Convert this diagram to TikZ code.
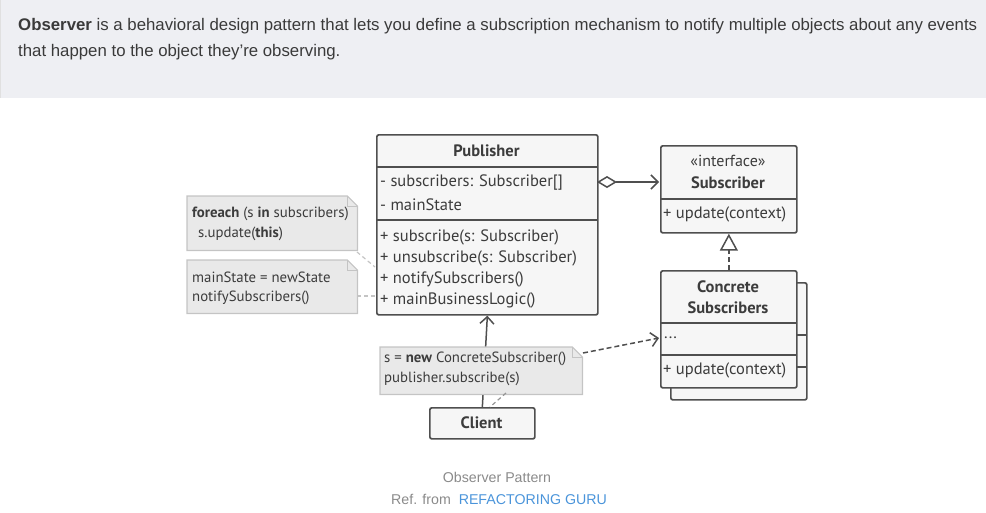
\documentclass[tikz,border=0pt]{standalone}
\usepackage{fontspec}
\setmainfont{Liberation Sans}
\newfontfamily\uml{PT Sans}
\usetikzlibrary{arrows.meta}
\definecolor{hdrbg}{HTML}{EEEFF3}
\definecolor{hdrtxt}{HTML}{3A3A3A}
\definecolor{boxline}{HTML}{4F4F4F}
\definecolor{boxfill}{HTML}{F6F6F6}
\definecolor{umltxt}{HTML}{3C3C3C}
\definecolor{notefill}{HTML}{E9E9E9}
\definecolor{noteline}{HTML}{C4C4C4}
\definecolor{capgray}{HTML}{8A8A8A}
\definecolor{linkblue}{HTML}{4A94DA}
\tikzset{
  cls/.style={draw=boxline, fill=boxfill, line width=1.7pt, rounded corners=2pt, inner sep=0pt, anchor=north west},
  divl/.style={draw=boxline, line width=1.7pt},
  umlt/.style={inner sep=0pt, text=umltxt, font=\uml\fontsize{16.5}{19}\selectfont},
  umlb/.style={umlt, font=\uml\bfseries\fontsize{16.5}{19}\selectfont},
  notet/.style={inner sep=0pt, anchor=west, text=umltxt, font=\uml\fontsize{14.8}{17}\selectfont},
  notebox/.style={inner sep=0pt, anchor=north west},
  notedraw/.style={draw=noteline, fill=notefill, line width=1.2pt},
  notelink/.style={draw=noteline, line width=1.2pt, dash pattern=on 4pt off 3pt},
  conn/.style={draw=boxline, line width=1.5pt},
  barb/.style={-{Straight Barb[length=7pt,width=14pt,line width=1.5pt]}},
}
\begin{document}
\begin{tikzpicture}[x=1pt,y=-1pt]
\useasboundingbox (0,0) rectangle (986,512);
% header
\fill[hdrbg] (0,0) rectangle (986,98);
\draw[color=black!12, line width=1pt] (0.5,0) -- (0.5,98);
\node[anchor=base west, inner sep=0pt, text=hdrtxt, font=\fontsize{16.8}{20}\selectfont] (h1) at (18,30) {\textbf{Observer} is a behavioral design pattern that lets you define a subscription mechanism to notify multiple objects about any events};
\node[anchor=base west, inner sep=0pt, text=hdrtxt, font=\fontsize{16.8}{20}\selectfont] (h2) at (18,56) {that happen to the object they’re observing.};

% Publisher
\node[cls, minimum width=221pt, minimum height=180pt] (pub) at (376,134) {};
\draw[divl] (376,167) -- (597,167);
\draw[divl] (376,220) -- (597,220);
\node[umlb] (pubt) at (486.5,151) {Publisher};
\node[umlt, anchor=west] (pa1) at (380,183) {- subscribers: Subscriber[]};
\node[umlt, anchor=west] (pa2) at (380,205) {- mainState};
\node[umlt, anchor=west] (pm1) at (380,237) {+ subscribe(s: Subscriber)};
\node[umlt, anchor=west] (pm2) at (380,258) {+ unsubscribe(s: Subscriber)};
\node[umlt, anchor=west] (pm3) at (380,279) {+ notifySubscribers()};
\node[umlt, anchor=west] (pm4) at (380,300) {+ mainBusinessLogic()};

% Subscriber interface
\node[cls, minimum width=136pt, minimum height=87pt] (sub) at (660,145) {};
\draw[divl] (660,199) -- (796,199);
\node[umlt, font=\uml\fontsize{16}{19}\selectfont] (subi) at (728,161) {«interface»};
\node[umlb] (subt) at (728,183) {Subscriber};
\node[umlt, anchor=west] (subm) at (663,214) {+ update(context)};

% Concrete subscribers (stacked)
\node[cls, minimum width=136pt, minimum height=117pt] (csb) at (670,282) {};
\draw[divl] (796,335) -- (806,335);
\draw[divl] (796,367) -- (806,367);
\node[cls, minimum width=136pt, minimum height=117pt] (cs) at (660,270) {};
\draw[divl] (660,323) -- (796,323);
\draw[divl] (660,355) -- (796,355);
\node[umlb] (cst1) at (728,287) {Concrete};
\node[umlb] (cst2) at (728,308) {Subscribers};
\node[umlt, anchor=west] (csa) at (664,338) {...};
\node[umlt, anchor=west] (csm) at (663,370) {+ update(context)};

% Client
\node[cls, minimum width=105pt, minimum height=31pt] (cli) at (429,407) {};
\node[umlb] (clit) at (481.5,423) {Client};

% aggregation
\coordinate (aggS) at (597,182);
\coordinate (aggE) at (659,182);
\draw[conn, {Diamond[open,length=20pt,width=12pt,line width=1.5pt,fill=white]}-{Straight Barb[length=7pt,width=14pt,line width=1.5pt]}] (aggS) -- (aggE);
% realization
\draw[conn, dash pattern=on 5pt off 3pt, -{Triangle[open,length=17pt,width=18pt,line width=1.5pt,fill=white]}] (cs.north) -- (sub.south);
% client -> publisher
\draw[conn, barb] (cli.north) -- (pub.south);

% note 1
\node[notebox, minimum width=170pt, minimum height=54pt] (n1) at (187,196) {};
\draw[notedraw] (n1.north west) -- ([xshift=-10pt]n1.north east) -- ([yshift=-10pt]n1.north east) -- (n1.south east) -- (n1.south west) -- cycle;
\draw[noteline, line width=1pt] ([xshift=-10pt]n1.north east) -- ([xshift=-10pt,yshift=-10pt]n1.north east) -- ([yshift=-10pt]n1.north east);
\node[notet] (n1a) at (192,214) {\textbf{foreach} (s \textbf{in} subscribers)};
\node[notet] (n1b) at (198,234) {s.update(\textbf{this})};
% note 2
\node[notebox, minimum width=170pt, minimum height=53pt] (n2) at (187,260) {};
\draw[notedraw] (n2.north west) -- ([xshift=-10pt]n2.north east) -- ([yshift=-10pt]n2.north east) -- (n2.south east) -- (n2.south west) -- cycle;
\draw[noteline, line width=1pt] ([xshift=-10pt]n2.north east) -- ([xshift=-10pt,yshift=-10pt]n2.north east) -- ([yshift=-10pt]n2.north east);
\node[notet] (n2a) at (192,277) {mainState = newState};
\node[notet] (n2b) at (192,298) {notifySubscribers()};
% note links
\coordinate (l1a) at (357,252);
\coordinate (l1b) at (375,267);
\draw[notelink] (l1a) -- (l1b);
\coordinate (l2a) at (357,296);
\coordinate (l2b) at (375,296);
\draw[notelink] (l2a) -- (l2b);

% note 3
\node[notebox, minimum width=202pt, minimum height=47pt] (n3) at (380,347) {};
\draw[notedraw] (n3.north west) -- ([xshift=-10pt]n3.north east) -- ([yshift=-10pt]n3.north east) -- (n3.south east) -- (n3.south west) -- cycle;
\draw[noteline, line width=1pt] ([xshift=-10pt]n3.north east) -- ([xshift=-10pt,yshift=-10pt]n3.north east) -- ([yshift=-10pt]n3.north east);
\node[notet] (n3a) at (384,359) {s = \textbf{new} ConcreteSubscriber()};
\node[notet] (n3b) at (384,379) {publisher.subscribe(s)};
\coordinate (l3a) at (506,393);
\coordinate (l3b) at (490,407);
\draw[notelink, draw=boxline!60] (l3a) -- (l3b);
\coordinate (l4a) at (583,353);
\coordinate (l4b) at (659,338);
\draw[conn, dash pattern=on 5pt off 3pt, barb] (l4a) -- (l4b);

% caption
\node[inner sep=0pt, text=capgray, font=\fontsize{14.2}{16}\selectfont] (cap1) at (497,477) {Observer Pattern};
\node[inner sep=0pt, font=\fontsize{14.2}{16}\selectfont] (cap2) at (499,499) {\textcolor{capgray}{Ref. from}\ \ \textcolor{linkblue}{REFACTORING GURU}};
\end{tikzpicture}
\end{document}
